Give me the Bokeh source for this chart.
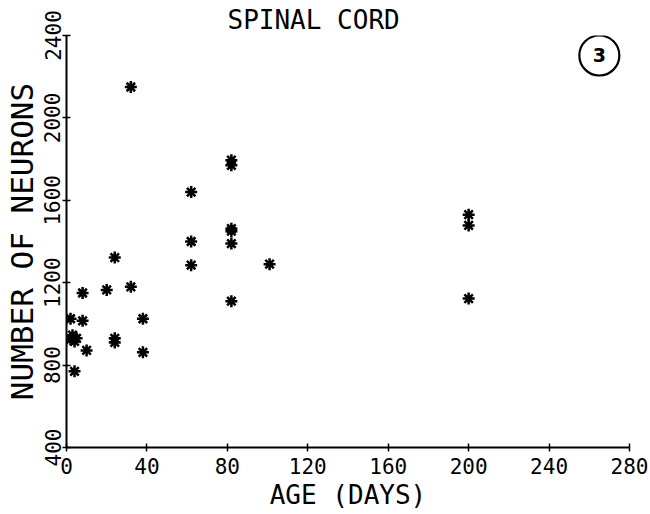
from bokeh.plotting import figure
from bokeh.models import FixedTicker
from bokeh.core.properties import value
from bokeh.embed import file_html
from bokeh.resources import INLINE

# Data (age in days, number of neurons)
age_days = [32, 82, 82, 62, 82, 82, 62, 82, 62, 101, 82,
            200, 200, 200,
            8, 20, 32, 24,
            2, 8, 38,
            2, 3, 5, 4,
            24, 24,
            10, 38, 4]
neurons = [2150, 1795, 1770, 1640, 1462, 1450, 1400, 1390, 1285, 1290, 1110,
           1530, 1478, 1123,
           1150, 1165, 1180, 1322,
           1025, 1015, 1025,
           925, 945, 930, 915,
           930, 910,
           871, 862, 770]

x_ticks = [0, 40, 80, 120, 160, 200, 240, 280]
y_ticks = [400, 800, 1200, 1600, 2000, 2400]
title_text = "SPINAL CORD"
x_title = "AGE (DAYS)"
y_title = "NUMBER OF NEURONS"
panel_label = "3"
panel_label_pos = (265, 2303)

FONT = "DejaVu Sans Mono"

p = figure(width=648, height=512, x_range=(0, 280), y_range=(400, 2400),
           output_backend="svg", toolbar_location=None,
           min_border_left=64, min_border_right=19,
           min_border_top=35, min_border_bottom=65)

p.outline_line_color = None
p.xgrid.visible = False
p.ygrid.visible = False
p.background_fill_color = "white"
p.border_fill_color = "white"

p.title.text = title_text
p.title.align = "left"
p.title.offset = 161
p.title.standoff = 1
p.title.text_font = FONT
p.title.text_font_size = "26px"
p.title.text_font_style = "normal"
p.title.text_color = "black"

for ax in (p.xaxis[0], p.yaxis[0]):
    ax.axis_line_width = 2
    ax.axis_line_color = "black"
    ax.major_tick_in = 4
    ax.major_tick_out = 4
    ax.major_tick_line_width = 1.5
    ax.major_tick_line_color = "black"
    ax.minor_tick_line_color = None
    ax.major_label_text_font = FONT
    ax.major_label_text_font_size = "21px"
    ax.major_label_text_color = "black"
    ax.axis_label_text_font = FONT
    ax.axis_label_text_font_style = "normal"
    ax.axis_label_text_color = "black"

p.xaxis.ticker = FixedTicker(ticks=x_ticks)
p.yaxis.ticker = FixedTicker(ticks=y_ticks)
p.xaxis.axis_label = x_title
p.yaxis.axis_label = y_title
p.xaxis.axis_label_text_font_size = "26px"
p.yaxis.axis_label_text_font_size = "31px"
p.xaxis.major_label_standoff = 6
p.yaxis.major_label_standoff = 2
p.xaxis.axis_label_standoff = 3
p.yaxis.axis_label_standoff = 2
p.yaxis.major_label_orientation = "vertical"

p.scatter(age_days, neurons, marker="asterisk", size=12,
          line_color="black", line_width=2.5)

# panel number in a circle
p.scatter([panel_label_pos[0]], [panel_label_pos[1]], marker="circle", size=40,
          fill_color=None, line_color="black", line_width=2.2)
p.text([panel_label_pos[0]], [panel_label_pos[1]], text=[panel_label],
       text_font=value("DejaVu Sans"), text_font_style="bold",
       text_font_size="19px", text_align="center", text_baseline="middle",
       text_color="black")

open("out.html", "w").write(file_html(p, INLINE))
